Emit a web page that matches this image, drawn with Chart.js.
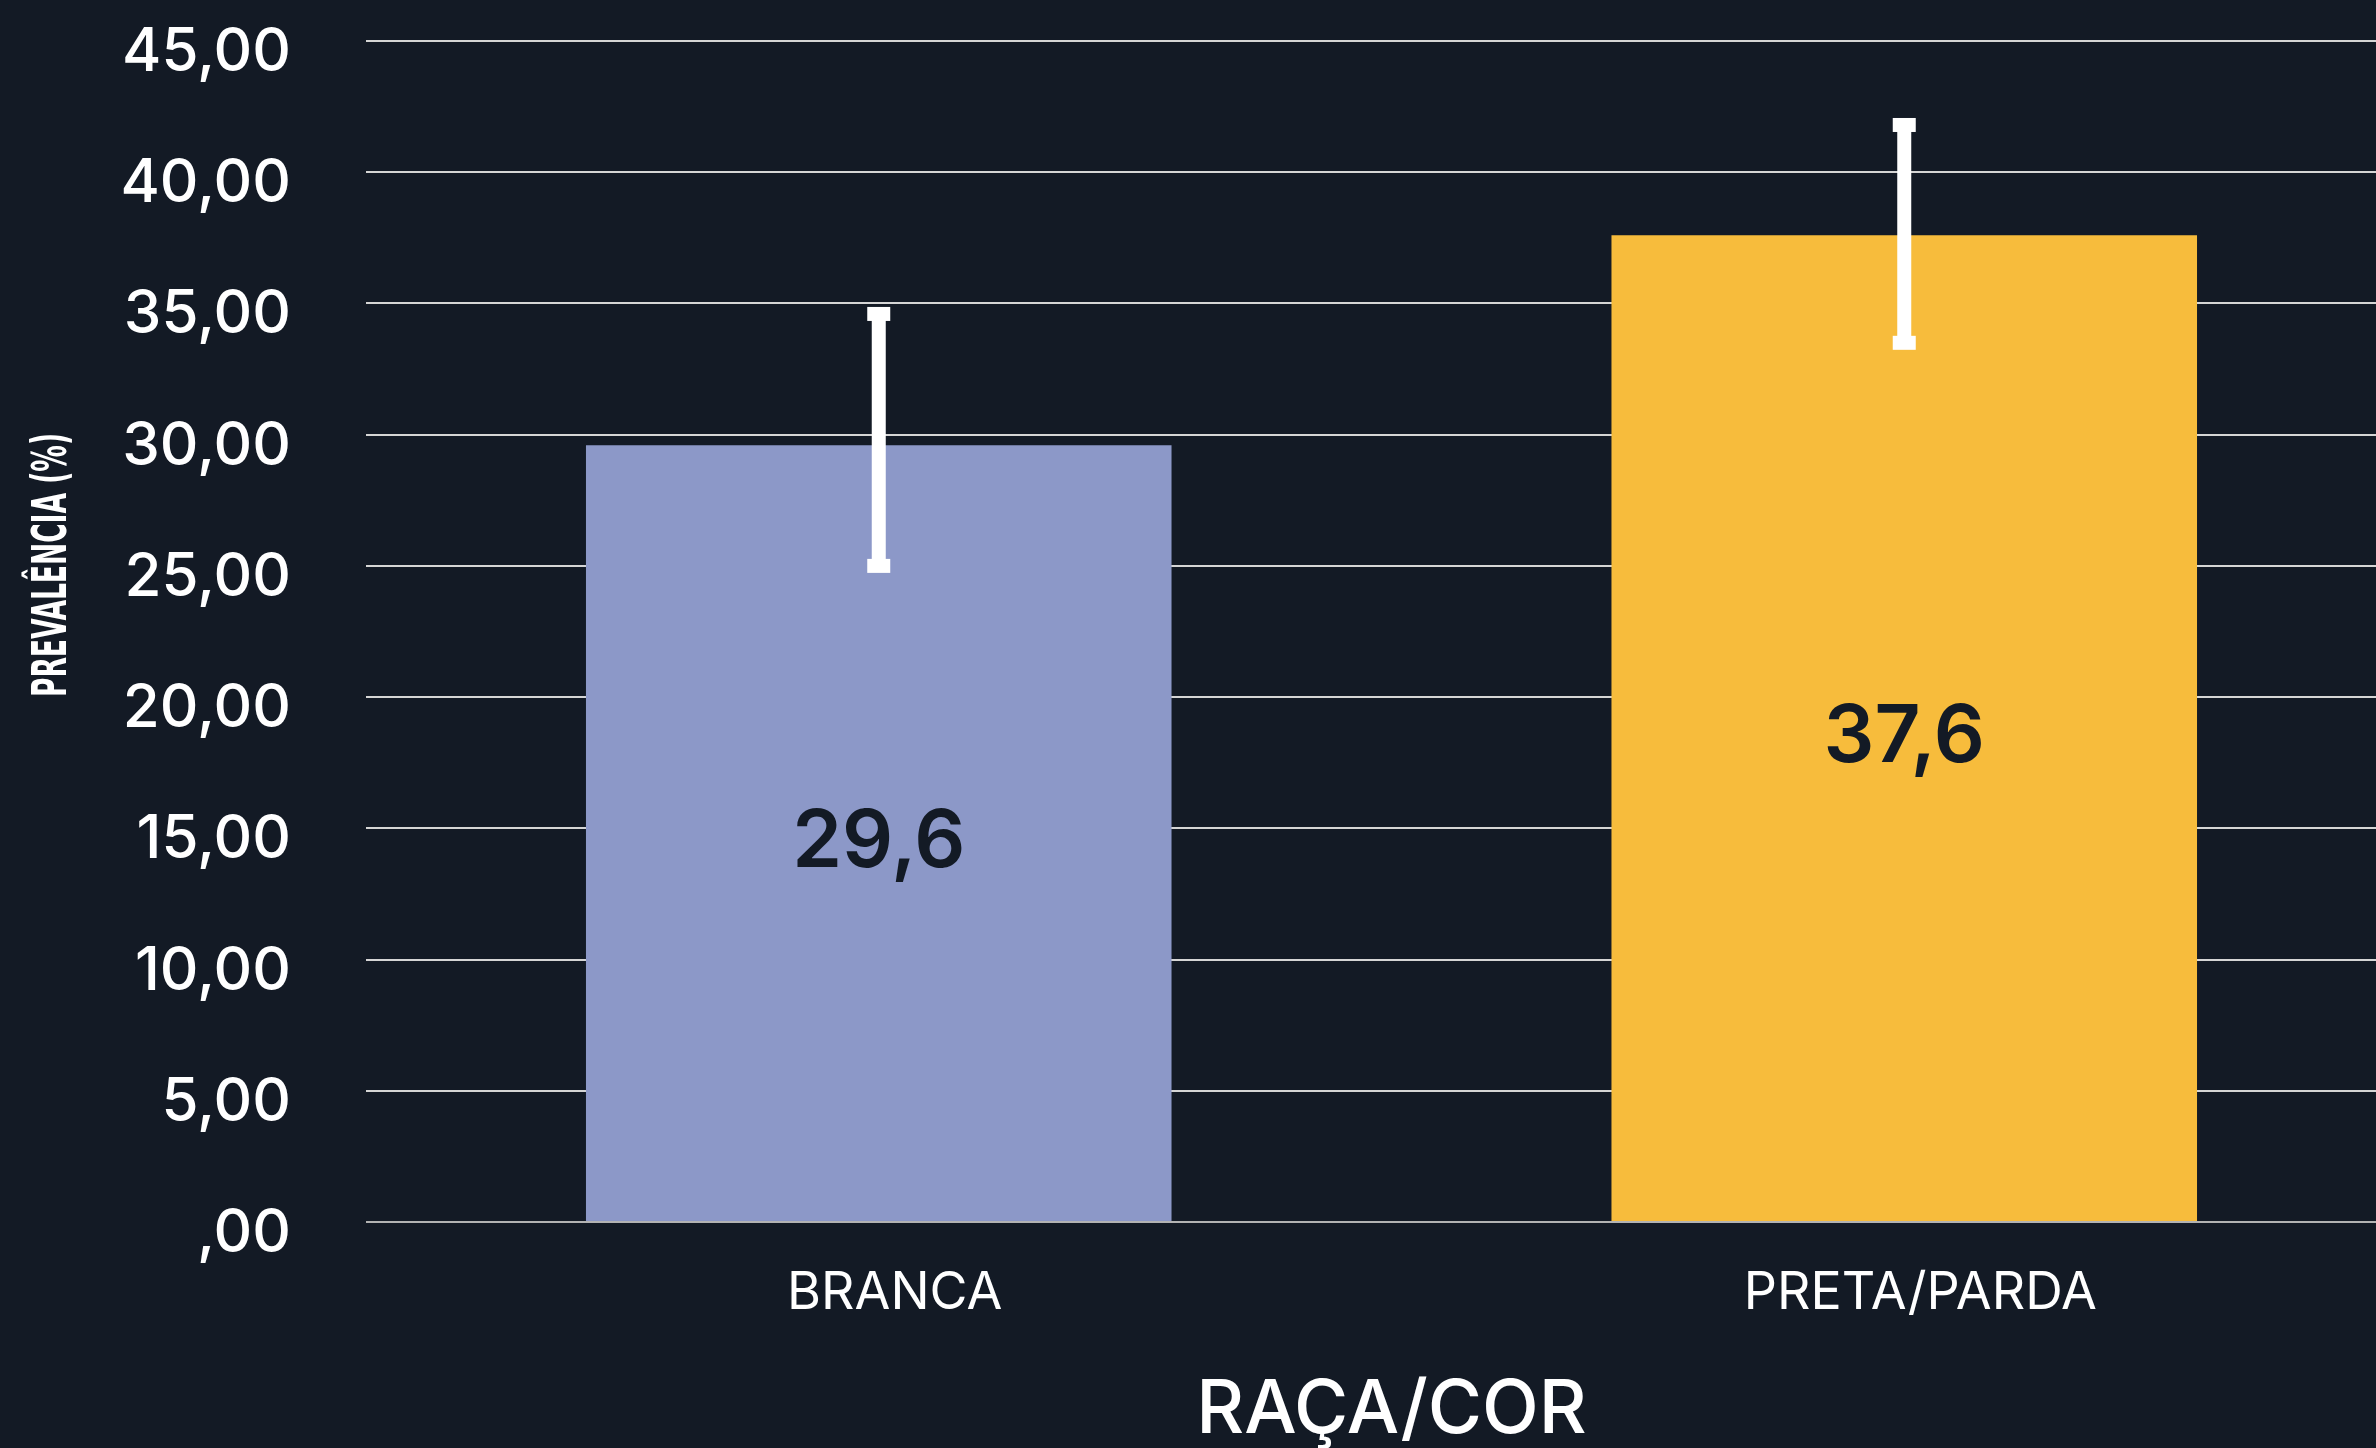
<!DOCTYPE html>
<html lang="pt-BR">
<head>
<meta charset="utf-8">
<title>Prevalência por raça/cor</title>
<script src="https://cdn.jsdelivr.net/npm/chart.js@4/dist/chart.umd.min.js"></script>
<style>
    html, body { margin: 0; padding: 0; background: #131a25; overflow: hidden; }
    /* plot area runs a little past the right edge of the picture, as in the original */
    #wrap { position: relative; width: 2417px; height: 1448px; }
</style>
</head>
<body>
<div id="wrap"><canvas id="prevChart"></canvas></div>
<script>
// ── Data ─────────────────────────────────────────────────────────
var categories  = ['BRANCA', 'PRETA/PARDA'];
var prevalence  = [29.6, 37.6];
var ciLow       = [25.0, 33.5];
var ciHigh      = [34.6, 41.8];
var barColors   = ['#8c98c8', '#f7bc3c'];
var yTickLabels = [',00', '5,00', '10,00', '15,00', '20,00', '25,00', '30,00', '35,00', '40,00', '45,00'];
var yTitle      = 'PREVALÊNCIA (%)';
var xTitle      = 'RAÇA/COR';

(function () {
    'use strict';

    var FONT = "Inter, 'Open Sans', 'Noto Sans', sans-serif";

    function fmtComma(v) { return String(v.toFixed(1)).replace('.', ','); }

    // Error bars, zero line on top of the bars and value labels
    var overlayPlugin = {
        id: 'overlay',
        afterDatasetsDraw: function (chart) {
            var ctx = chart.ctx;
            var y = chart.scales.y;
            var area = chart.chartArea;
            var meta = chart.getDatasetMeta(0);

            ctx.save();

            // zero line sits above the bars
            var y0 = Math.round(y.getPixelForValue(0));
            ctx.strokeStyle = '#b3b3b3';
            ctx.lineWidth = 2;
            ctx.beginPath();
            ctx.moveTo(area.left, y0);
            ctx.lineTo(area.right, y0);
            ctx.stroke();

            meta.data.forEach(function (bar, i) {
                // value label in the middle of the bar
                ctx.fillStyle = '#131a25';
                ctx.font = '600 80px ' + FONT;
                ctx.textAlign = 'center';
                ctx.textBaseline = 'middle';
                ctx.fillText(fmtComma(prevalence[i]), bar.x, (bar.y + bar.base) / 2 + 10);

                // error bar
                var top = y.getPixelForValue(ciHigh[i]);
                var bot = y.getPixelForValue(ciLow[i]);
                ctx.fillStyle = '#ffffff';
                ctx.fillRect(bar.x - 7, top, 14, bot - top);
                ctx.fillRect(bar.x - 11.5, top - 7, 23, 14);
                ctx.fillRect(bar.x - 11.5, bot - 7, 23, 14);
            });

            ctx.restore();
        },
        afterDraw: function (chart) {
            // condensed vertical axis title, left of the tick labels
            var ctx = chart.ctx;
            ctx.save();
            ctx.font = "bold 48px 'Liberation Sans Narrow', 'DejaVu Sans Condensed', 'Roboto', sans-serif";
            var w = ctx.measureText(yTitle).width;
            var sx = 264 / w;
            ctx.translate(52, 565);
            ctx.rotate(-Math.PI / 2);
            ctx.scale(sx, 1);
            ctx.fillStyle = '#ffffff';
            ctx.textAlign = 'center';
            ctx.textBaseline = 'middle';
            ctx.fillText(yTitle, 0, 2);
            ctx.restore();
        }
    };

    new Chart(document.getElementById('prevChart'), {
        type: 'bar',
        data: {
            labels: categories,
            datasets: [{
                data: prevalence,
                backgroundColor: barColors,
                borderWidth: 0,
                categoryPercentage: 1,
                barPercentage: 0.571
            }]
        },
        options: {
            responsive: true,
            maintainAspectRatio: false,
            animation: false,
            layout: { padding: { top: 41, right: 0, bottom: 0, left: 0 } },
            plugins: {
                legend: { display: false },
                tooltip: { enabled: false }
            },
            scales: {
                x: {
                    grid: { display: false, drawTicks: false },
                    border: { display: false },
                    ticks: {
                        color: '#ffffff',
                        padding: 40,
                        labelOffset: 16,
                        font: { family: FONT, size: 52, weight: '400' }
                    },
                    title: {
                        display: true,
                        text: xTitle,
                        color: '#ffffff',
                        padding: { top: 0, bottom: 0 },
                        font: { family: FONT, size: 74, weight: '500', lineHeight: 1 }
                    },
                    afterFit: function (scale) {
                        scale.height = 226;
                        scale.paddingLeft = 0;
                        scale.paddingRight = 0;
                    }
                },
                y: {
                    min: 0,
                    max: 45,
                    grid: { color: '#d5d5d5', lineWidth: 2, drawTicks: false },
                    border: { display: false },
                    ticks: {
                        stepSize: 5,
                        color: '#ffffff',
                        padding: 75,
                        labelOffset: 12,
                        font: { family: FONT, size: 60, weight: '500' },
                        callback: function (v, idx) { return yTickLabels[idx]; }
                    },
                    afterFit: function (scale) {
                        scale.width = 366;
                        // tick padding would otherwise push the plot area down
                        scale.paddingTop = 0;
                        scale.paddingBottom = 0;
                    }
                }
            }
        },
        plugins: [overlayPlugin]
    });
})();
</script>
</body>
</html>
